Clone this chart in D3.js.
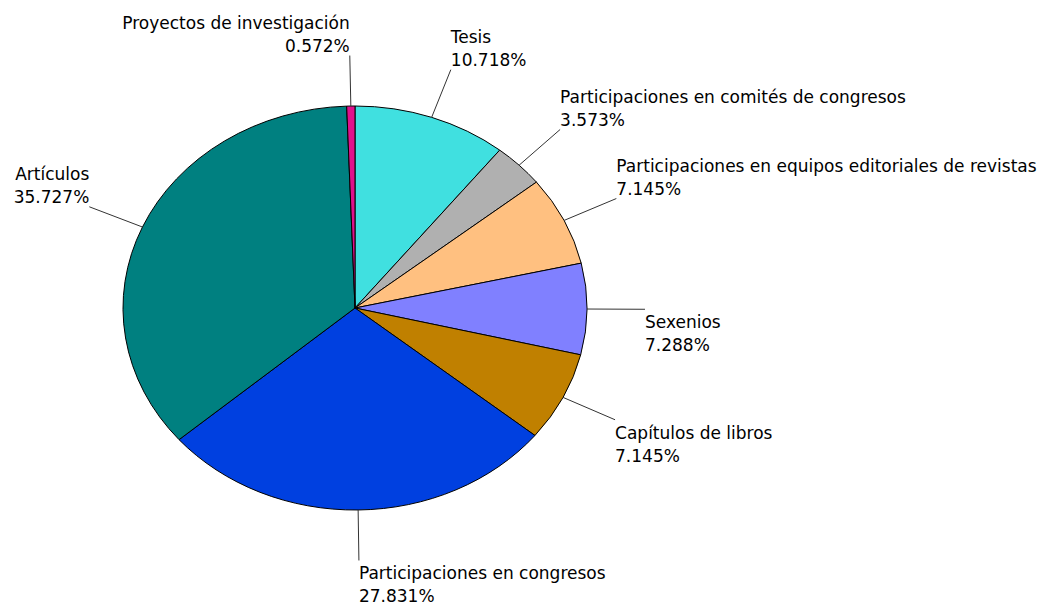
<!DOCTYPE html>
<html>
<head>
<meta charset="utf-8">
<script src="https://cdn.jsdelivr.net/npm/d3@7"></script>
<style>
  html, body { margin: 0; padding: 0; background: #fff; }
  svg { display: block; }
  text { font-family: "DejaVu Sans", Verdana, sans-serif; fill: #000; }
</style>
</head>
<body>
<svg id="chart" width="1047" height="605"></svg>
<script>
// Data (clockwise from 12 o'clock)
const categories = [
  "Tesis",
  "Participaciones en comités de congresos",
  "Participaciones en equipos editoriales de revistas",
  "Sexenios",
  "Capítulos de libros",
  "Participaciones en congresos",
  "Artículos",
  "Proyectos de investigación"
];
const values = [10.718, 3.573, 7.145, 7.288, 7.145, 27.831, 35.727, 0.572];
const colors = ["#40E0E0", "#B0B0B0", "#FFC080", "#8080FF", "#C08000", "#0040E0", "#008080", "#E0108C"];

// Layout
const W = 1047, H = 605;
const cx = 355, cy = 308, rx = 232, ry = 202;
const leaderFactor = 1.25;
const fontSize = 17, lineH = 23;

const svg = d3.select("#chart");
const data = categories.map((c, i) => ({ name: c, value: values[i], color: colors[i] }));

const pie = d3.pie().value(d => d.value).sort(null);
const arcs = pie(data);
const arc = d3.arc().innerRadius(0).outerRadius(rx);

const g = svg.append("g").attr("transform", `translate(${cx},${cy}) scale(1,${ry / rx})`);
g.selectAll("path.slice")
  .data(arcs)
  .enter().append("path")
  .attr("class", "slice")
  .attr("d", arc)
  .attr("fill", d => d.data.color)
  .attr("stroke", "#000")
  .attr("stroke-width", 1)
  .attr("vector-effect", "non-scaling-stroke");

// Leaders and labels
const lab = svg.append("g");
arcs.forEach(a => {
  const m = (a.startAngle + a.endAngle) / 2;
  const sx = Math.sin(m), sy = -Math.cos(m);
  const x0 = cx + rx * sx, y0 = cy + ry * sy;
  const x1 = cx + rx * leaderFactor * sx, y1 = cy + ry * leaderFactor * sy;
  lab.append("line")
    .attr("x1", x0).attr("y1", y0).attr("x2", x1).attr("y2", y1)
    .attr("stroke", "#333").attr("stroke-width", 1);
  const right = sx >= 0;
  const above = y1 < cy;
  const lines = [a.data.name, a.data.value.toFixed(3) + "%"];
  const firstBase = above ? (y1 - 4 - lineH) : (y1 + 19);
  const t = lab.append("text")
    .attr("font-size", fontSize)
    .attr("text-anchor", right ? "start" : "end");
  lines.forEach((s, i) => {
    t.append("tspan").attr("x", x1).attr("y", firstBase + i * lineH).text(s);
  });
});
</script>
</body>
</html>
